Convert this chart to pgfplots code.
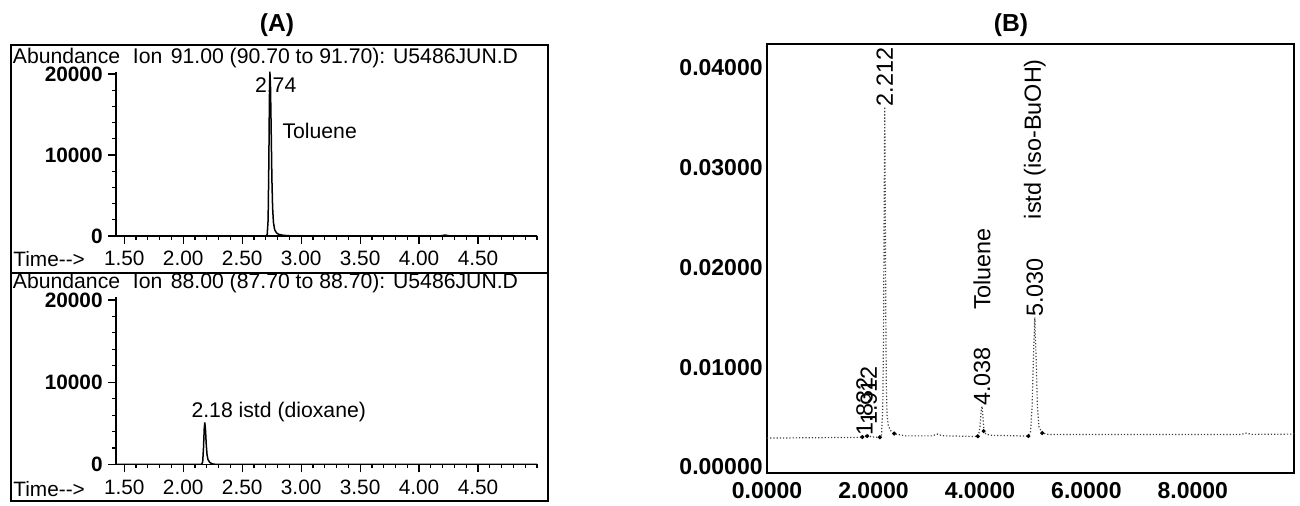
\documentclass[border=0pt]{standalone}
\usepackage{fontspec}
\setmainfont{Liberation Sans}
\usepackage{pgfplots}
\pgfplotsset{compat=1.18}
\newcommand{\fA}{\fontsize{10.6}{12}\selectfont}
\newcommand{\fT}{\fontsize{10.4}{12}\selectfont}
\newcommand{\fB}{\fontsize{11.7}{13}\selectfont}
\begin{document}
\begin{tikzpicture}
\useasboundingbox (0,0) rectangle (650pt,253pt);
% Panel A frame
\draw[line width=0.8pt] (5.5pt,2.5pt) rectangle (274pt,230.5pt);
\draw[line width=0.8pt] (5.5pt,116.5pt) -- (274pt,116.5pt);
\node[font=\bfseries\fontsize{12.3}{14}\selectfont] at (138.5pt,240.5pt) {(A)};
\node[font=\bfseries\fontsize{12.3}{14}\selectfont] at (505.5pt,240.5pt) {(B)};
\node[anchor=base west, inner sep=0pt, font=\fA] at (6.25pt,221pt) {Abundance\hspace{0.6em}Ion\hspace{0.4em}91.00 (90.70 to 91.70): U5486JUN.D};
\node[anchor=base west, inner sep=0pt, font=\fA] at (6.25pt,108.5pt) {Abundance\hspace{0.6em}Ion\hspace{0.4em}88.00 (87.70 to 88.70): U5486JUN.D};
\node[anchor=base west, inner sep=0pt, font=\fT] at (6.5pt,119.5pt) {Time-{}-{}>};
\node[anchor=base west, inner sep=0pt, font=\fT] at (6.5pt,4.5pt) {Time-{}-{}>};

\pgfplotsset{
  chromA/.style={
    at={(58pt,#1)}, anchor=south west,
    scale only axis, width=210.5pt,
    xmin=1.43, xmax=5.0, ymin=0, ymax=20300,
    axis lines=left, axis line style={-, line width=0.6pt},
    tick align=outside, tick style={black, line width=0.6pt},
    major tick length=4pt, minor tick length=2pt,
    xtick={1.5,2,2.5,3,3.5,4,4.5},
    xticklabels={1.50,2.00,2.50,3.00,3.50,4.00,4.50},
    minor xtick={1.6,1.7,1.8,1.9,2.1,2.2,2.3,2.4,2.6,2.7,2.8,2.9,3.1,3.2,3.3,3.4,3.6,3.7,3.8,3.9,4.1,4.2,4.3,4.4,4.6,4.7,4.8,4.9,5.0},
    ytick={0,10000,20000}, yticklabels={0,10000,20000},
    minor ytick={2000,4000,6000,8000,12000,14000,16000,18000},
    xticklabel style={font=\fT, anchor=base, inner sep=0pt, yshift=-11pt},
    yticklabel style={font=\bfseries\fT, anchor=east, inner sep=0pt, xshift=-2.5pt},
    scaled ticks=false, clip=true,
  }
}
\begin{axis}[chromA=135pt, height=82.2pt]
\addplot[black, line width=0.75pt] coordinates {
(1.43,0) (2.70,0) (2.712,150) (2.72,2000) (2.726,9000) (2.731,17000) (2.735,20300) (2.74,18500) (2.746,13000) (2.752,7000) (2.758,3500) (2.765,1700) (2.775,800) (2.79,400) (2.81,200) (2.85,80) (2.9,30) (3.0,0) (4.18,0) (4.22,120) (4.26,0) (5.0,0)};
\node[font=\fA] at (axis cs:2.784,18640) {2.74};
\node[font=\fA] at (axis cs:3.157,12960) {Toluene};
\end{axis}

\begin{axis}[chromA=20.75pt, height=83.5pt]
\addplot[black, line width=0.75pt] coordinates {
(1.43,0) (2.155,0) (2.165,300) (2.172,2000) (2.178,4300) (2.183,5100) (2.189,4200) (2.195,2500) (2.202,1200) (2.21,600) (2.225,250) (2.245,80) (2.28,0) (5.0,0)};
\node[font=\fA] at (axis cs:2.81,6380) {2.18 istd (dioxane)};
\end{axis}

% Panel B
\begin{axis}[
  at={(383.5pt,16.5pt)}, anchor=south west,
  scale only axis, width=263.5pt, height=214.5pt,
  xmin=0, xmax=9.9, ymin=-0.0006, ymax=0.0424,
  axis line style={line width=0.6pt},
  major tick length=0pt,
  xtick={0,2,4,6,8}, xticklabels={0.0000,2.0000,4.0000,6.0000,8.0000},
  ytick={0,0.01,0.02,0.03,0.04}, yticklabels={0.00000,0.01000,0.02000,0.03000,0.04000},
  xticklabel style={font=\bfseries\fontsize{11.5}{13}\selectfont, anchor=base, inner sep=0pt, yshift=-13pt},
  yticklabel style={font=\bfseries\fontsize{11.5}{13}\selectfont, anchor=east, inner sep=0pt, xshift=-2pt},
  scaled ticks=false, clip=true,
]
\addplot[black!75, line width=0.6pt, densely dotted] coordinates {
(0,0.00290) (1.0,0.00294) (1.75,0.00297) (1.80,0.00300) (1.832,0.00320) (1.86,0.00305) (1.912,0.00322) (1.95,0.00302) (2.10,0.00298) (2.15,0.00305) (2.175,0.0060) (2.19,0.0140) (2.20,0.0250) (2.212,0.0361) (2.222,0.0260) (2.232,0.0150) (2.242,0.0080) (2.255,0.0052) (2.28,0.0041) (2.33,0.0036) (2.42,0.0033) (2.6,0.00312) (3.1,0.00312) (3.2,0.0033) (3.3,0.00313) (3.9,0.00306) (3.97,0.00310) (4.00,0.0040) (4.02,0.0055) (4.038,0.0061) (4.055,0.0052) (4.075,0.0038) (4.11,0.0033) (4.2,0.00318) (4.9,0.00310) (4.95,0.0035) (4.98,0.0060) (5.005,0.0110) (5.03,0.0150) (5.055,0.0110) (5.08,0.0060) (5.11,0.0040) (5.17,0.0034) (5.3,0.00325) (8.9,0.00326) (9.0,0.0034) (9.1,0.00327) (9.9,0.00330)};
\addplot[only marks, mark=*, mark size=0.8pt, black] coordinates {
(1.79,0.00300) (1.88,0.00310) (2.12,0.00298) (2.39,0.00335) (3.96,0.00308) (4.07,0.0036) (4.91,0.0031) (5.17,0.0034)};
\node[font=\fB, rotate=90, anchor=west, inner sep=0pt] at (axis cs:1.832,0.0031) {1.832};
\node[font=\fB, rotate=90, anchor=west, inner sep=0pt] at (axis cs:1.912,0.0042) {1.912};
\node[font=\fB, rotate=90, anchor=west, inner sep=0pt] at (axis cs:2.212,0.0361) {2.212};
\node[font=\fB, rotate=90, anchor=west, inner sep=0pt] at (axis cs:4.038,0.0061) {4.038};
\node[font=\fB, rotate=90, anchor=west, inner sep=0pt] at (axis cs:5.030,0.0150) {5.030};
\node[font=\fB, rotate=90, anchor=west, inner sep=0pt] at (axis cs:4.038,0.0157) {Toluene};
\node[font=\fB, rotate=90, anchor=west, inner sep=0pt] at (axis cs:5.030,0.0248) {istd (iso-BuOH)};
\end{axis}
\end{tikzpicture}
\end{document}
